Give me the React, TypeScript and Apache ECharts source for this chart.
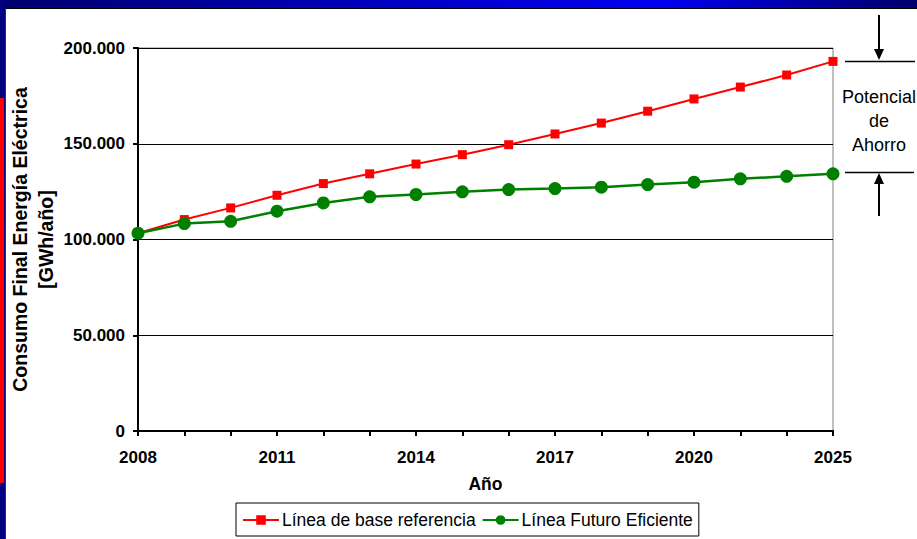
import React, { useEffect, useRef } from "react";
import * as echarts from "echarts";

// Years on the category axis (a label is shown on every third point)
const years = [
  "2008", "2009", "2010", "2011", "2012", "2013", "2014", "2015",
  "2016", "2017", "2018", "2019", "2020", "2021", "2023", "2025",
];

// Final electricity consumption, GWh/año
const baseline = [
  103300, 110400, 116500, 123100, 129200, 134300, 139400, 144300,
  149500, 155100, 160800, 167000, 173400, 179600, 185900, 193000,
];
const efficient = [
  103300, 108300, 109500, 114800, 119100, 122300, 123500, 124900,
  126100, 126600, 127300, 128700, 129900, 131700, 133000, 134300,
];

const yTicks = { min: 0, max: 200000, interval: 50000 };

const FONT = "'Liberation Sans', Arial, Helvetica, sans-serif";

const formatThousands = (v: number) =>
  String(Math.round(v)).replace(/\B(?=(\d{3})+(?!\d))/g, ".");

export default function App() {
  const ref = useRef<HTMLDivElement>(null);

  useEffect(() => {
    if (!ref.current) return;
    const chart = echarts.init(ref.current, undefined, { renderer: "svg" });

    const option: any = {
      animation: false,
      backgroundColor: "#ffffff",
      grid: {
        left: 138,
        right: 84,
        top: 48,
        bottom: 108,
        containLabel: false,
        outerBoundsMode: "none",
        show: true,
        borderColor: "#808080",
        borderWidth: 1,
        backgroundColor: "transparent",
      },
      xAxis: {
        type: "category",
        data: years,
        boundaryGap: false,
        name: "Año",
        nameLocation: "middle",
        nameGap: 44,
        nameMoveOverlap: false,
        nameTextStyle: {
          fontFamily: FONT,
          fontWeight: "bold",
          fontSize: 17.5,
          color: "#000",
        },
        axisLine: { lineStyle: { color: "#000", width: 2 } },
        axisTick: {
          show: true,
          interval: 0,
          length: 5,
          lineStyle: { color: "#000", width: 2 },
        },
        axisLabel: {
          interval: 2,
          margin: 18,
          fontFamily: FONT,
          fontWeight: "bold",
          fontSize: 17,
          color: "#000",
        },
        splitLine: { show: false },
      },
      yAxis: {
        type: "value",
        min: yTicks.min,
        max: yTicks.max,
        interval: yTicks.interval,
        name: "Consumo Final Energía Eléctrica\n[GWh/año]",
        nameLocation: "middle",
        nameGap: 79,
        nameMoveOverlap: false,
        nameTextStyle: {
          fontFamily: FONT,
          fontWeight: "bold",
          fontSize: 19.5,
          lineHeight: 26,
          color: "#000",
          align: "center",
        },
        axisLine: { show: true, lineStyle: { color: "#000", width: 2 } },
        axisTick: {
          show: true,
          length: 5,
          lineStyle: { color: "#000", width: 2 },
        },
        axisLabel: {
          margin: 13,
          fontFamily: FONT,
          fontWeight: "bold",
          fontSize: 17,
          color: "#000",
          formatter: (v: number) => formatThousands(v),
        },
        splitLine: { show: true, lineStyle: { color: "#000", width: 1 } },
      },
      legend: {
        left: 236,
        top: 503,
        orient: "horizontal",
        backgroundColor: "#fff",
        borderColor: "#000",
        borderWidth: 1,
        borderRadius: 0,
        padding: [8, 6, 7, 6],
        itemWidth: 36,
        itemHeight: 12,
        itemGap: 6,
        textStyle: {
          fontFamily: FONT,
          fontSize: 17.5,
          color: "#000",
          padding: [0, 0, 0, -2],
        },
        data: ["Línea de base referencia", "Línea Futuro Eficiente"],
      },
      series: [
        {
          name: "Línea de base referencia",
          type: "line",
          data: baseline,
          symbol: "rect",
          symbolSize: 9,
          itemStyle: { color: "#ff0000" },
          lineStyle: { color: "#ff0000", width: 2 },
        },
        {
          name: "Línea Futuro Eficiente",
          type: "line",
          data: efficient,
          symbol: "circle",
          symbolSize: 13,
          itemStyle: { color: "#008000" },
          lineStyle: { color: "#008000", width: 2.5 },
        },
      ],
      graphic: [
        // slide frame: gradient band across the top
        {
          type: "rect",
          shape: { x: 0, y: 0, width: 917, height: 8 },
          style: {
            fill: new echarts.graphic.LinearGradient(0, 0, 1, 0, [
              { offset: 0, color: "#00006e" },
              { offset: 0.45, color: "#0000c8" },
              { offset: 0.72, color: "#0000f0" },
              { offset: 1, color: "#00006a" },
            ]),
          },
          silent: true,
        },
        {
          type: "line",
          shape: { x1: 0, y1: 8.5, x2: 917, y2: 8.5 },
          style: { stroke: "#000", lineWidth: 1 },
          silent: true,
        },
        // slide frame: left strip
        {
          type: "rect",
          shape: { x: 0, y: 0, width: 5, height: 539 },
          style: { fill: "#000080" },
          silent: true,
        },
        {
          type: "rect",
          shape: { x: 0, y: 98, width: 4, height: 385 },
          style: { fill: "#ff0000" },
          silent: true,
        },
        {
          type: "line",
          shape: { x1: 5.5, y1: 8, x2: 5.5, y2: 539 },
          style: { stroke: "#333", lineWidth: 1 },
          silent: true,
        },
        // savings-potential annotation
        {
          type: "line",
          shape: { x1: 845, y1: 61.5, x2: 915, y2: 61.5 },
          style: { stroke: "#000", lineWidth: 1.5 },
          silent: true,
        },
        {
          type: "line",
          shape: { x1: 845, y1: 172.5, x2: 914, y2: 172.5 },
          style: { stroke: "#000", lineWidth: 1.5 },
          silent: true,
        },
        {
          type: "line",
          shape: { x1: 879, y1: 15, x2: 879, y2: 50 },
          style: { stroke: "#000", lineWidth: 2 },
          silent: true,
        },
        {
          type: "polygon",
          shape: { points: [[874, 49], [884, 49], [879, 60]] },
          style: { fill: "#000" },
          silent: true,
        },
        {
          type: "line",
          shape: { x1: 879, y1: 183, x2: 879, y2: 216 },
          style: { stroke: "#000", lineWidth: 2 },
          silent: true,
        },
        {
          type: "polygon",
          shape: { points: [[879, 173], [874, 184], [884, 184]] },
          style: { fill: "#000" },
          silent: true,
        },
        {
          type: "text",
          x: 879,
          y: 121,
          style: {
            text: "Potencial\nde\nAhorro",
            fontFamily: FONT,
            fontSize: 18,
            lineHeight: 24,
            fill: "#000",
            align: "center",
            verticalAlign: "middle",
          },
          silent: true,
        },
      ],
    };

    chart.setOption(option);
    return () => chart.dispose();
  }, []);

  return (
    <div
      ref={ref}
      style={{ position: "fixed", left: 0, top: 0, width: 917, height: 539 }}
    />
  );
}
